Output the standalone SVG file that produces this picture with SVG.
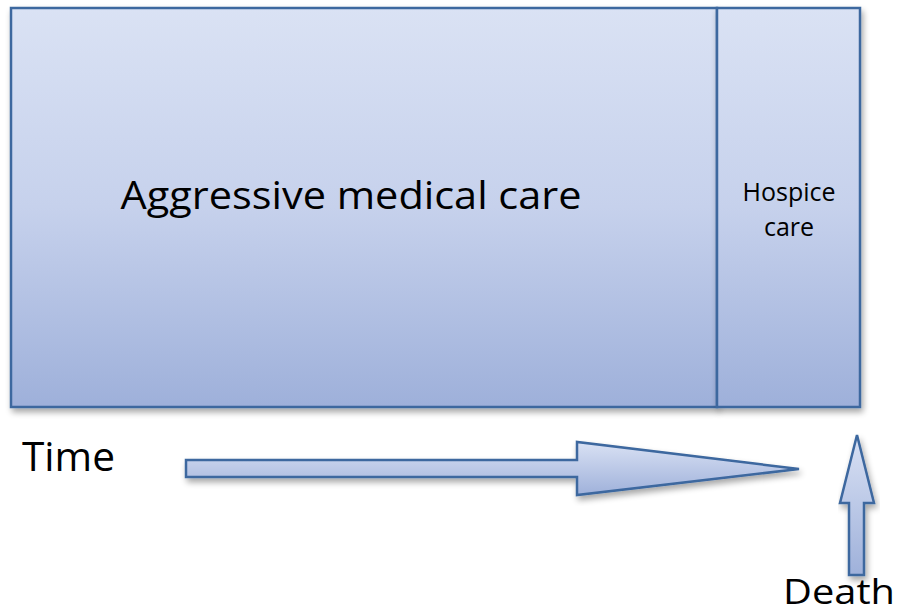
<svg xmlns="http://www.w3.org/2000/svg" width="899" height="616" viewBox="0 0 899 616">
<style>
.shape{stroke:#3c679f;stroke-width:2.5;stroke-linejoin:miter}
.t{font-family:"Open Sans","Liberation Sans",sans-serif;fill:#000}
</style>
<defs>
<linearGradient id="gBox" x1="0" y1="0" x2="0" y2="1">
<stop offset="0" stop-color="#dae2f4"/>
<stop offset="0.5" stop-color="#c6d1ec"/>
<stop offset="1" stop-color="#9eb0da"/>
</linearGradient>
<linearGradient id="gArr" x1="0" y1="0" x2="0" y2="1">
<stop offset="0" stop-color="#d9e1f4"/>
<stop offset="1" stop-color="#9fb1da"/>
</linearGradient>
<filter id="sh" x="-10%" y="-10%" width="125%" height="130%">
<feGaussianBlur in="SourceAlpha" stdDeviation="3"/>
<feOffset dx="2" dy="4" result="b"/>
<feComponentTransfer><feFuncA type="linear" slope="0.35"/></feComponentTransfer>
<feMerge><feMergeNode/><feMergeNode in="SourceGraphic"/></feMerge>
</filter>
</defs>
<g id="aggressive">
<rect class="shape" x="11" y="8" width="706" height="399" fill="url(#gBox)" filter="url(#sh)"/>
<text class="t" x="351" y="209" font-size="39" text-anchor="middle" textLength="461" lengthAdjust="spacingAndGlyphs">Aggressive medical care</text>
</g>
<g id="hospice">
<rect class="shape" x="717" y="8" width="143" height="399" fill="url(#gBox)" filter="url(#sh)"/>
<text class="t" x="789" y="201" font-size="25" text-anchor="middle" textLength="93" lengthAdjust="spacingAndGlyphs">Hospice</text>
<text class="t" x="789" y="236" font-size="25" text-anchor="middle">care</text>
</g>
<g id="time-label">
<text class="t" x="22" y="471" font-size="40" textLength="93" lengthAdjust="spacingAndGlyphs">Time</text>
</g>
<g id="death-label">
<text class="t" x="783" y="604" font-size="35" textLength="112" lengthAdjust="spacingAndGlyphs">Death</text>
</g>
<g id="connectors">
<path id="time-arrow" class="shape" d="M186,460 H577 V442 L799,469 L577,495 V477 H186 Z" fill="url(#gArr)" filter="url(#sh)"/>
<path id="death-arrow" class="shape" d="M857,435 L874,503 H864 V575 H849 V503 H840 Z" fill="url(#gArr)" filter="url(#sh)"/>
</g>
</svg>
